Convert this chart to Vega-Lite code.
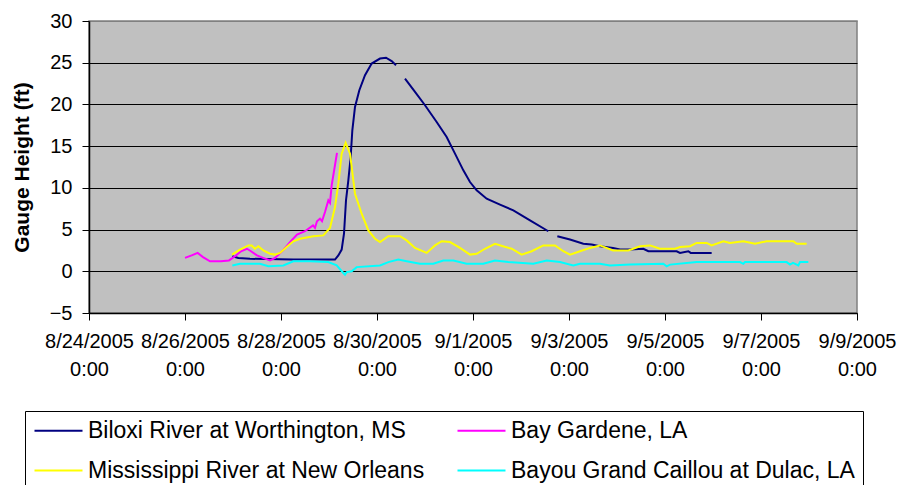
{
  "$schema": "https://vega.github.io/schema/vega-lite/v6.json",
  "autosize": "none",
  "width": 768,
  "height": 292,
  "padding": {"left": 89, "top": 21, "right": 42, "bottom": 172},
  "background": "white",
  "config": {
    "font": "Liberation Sans",
    "view": {"fill": "#C0C0C0", "stroke": "#808080", "strokeWidth": 1.5}
  },
  "datasets": {
    "series": [
      {"site": "Biloxi River at Worthington, MS", "time": "2005-08-26T23:40", "gauge": 1.8},
      {"site": "Biloxi River at Worthington, MS", "time": "2005-08-27T02:40", "gauge": 1.6},
      {"site": "Biloxi River at Worthington, MS", "time": "2005-08-27T08:30", "gauge": 1.5},
      {"site": "Biloxi River at Worthington, MS", "time": "2005-08-28T06:10", "gauge": 1.4},
      {"site": "Biloxi River at Worthington, MS", "time": "2005-08-29T03:00", "gauge": 1.4},
      {"site": "Biloxi River at Worthington, MS", "time": "2005-08-29T04:40", "gauge": 1.9},
      {"site": "Biloxi River at Worthington, MS", "time": "2005-08-29T06:20", "gauge": 2.6},
      {"site": "Biloxi River at Worthington, MS", "time": "2005-08-29T07:30", "gauge": 4.5},
      {"site": "Biloxi River at Worthington, MS", "time": "2005-08-29T08:30", "gauge": 8.5},
      {"site": "Biloxi River at Worthington, MS", "time": "2005-08-29T09:40", "gauge": 10.9},
      {"site": "Biloxi River at Worthington, MS", "time": "2005-08-29T10:50", "gauge": 13.7},
      {"site": "Biloxi River at Worthington, MS", "time": "2005-08-29T11:40", "gauge": 16.9},
      {"site": "Biloxi River at Worthington, MS", "time": "2005-08-29T13:00", "gauge": 19.7},
      {"site": "Biloxi River at Worthington, MS", "time": "2005-08-29T15:10", "gauge": 21.7},
      {"site": "Biloxi River at Worthington, MS", "time": "2005-08-29T18:00", "gauge": 23.5},
      {"site": "Biloxi River at Worthington, MS", "time": "2005-08-29T21:20", "gauge": 24.9},
      {"site": "Biloxi River at Worthington, MS", "time": "2005-08-30T01:30", "gauge": 25.5},
      {"site": "Biloxi River at Worthington, MS", "time": "2005-08-30T04:30", "gauge": 25.6},
      {"site": "Biloxi River at Worthington, MS", "time": "2005-08-30T07:20", "gauge": 25.2},
      {"site": "Biloxi River at Worthington, MS", "time": "2005-08-30T09:30", "gauge": 24.7},
      {"site": "Biloxi River at Worthington, MS", "time": "2005-08-30T11:40", "gauge": null},
      {"site": "Biloxi River at Worthington, MS", "time": "2005-08-30T14:00", "gauge": 23.1},
      {"site": "Biloxi River at Worthington, MS", "time": "2005-08-30T19:00", "gauge": 21.5},
      {"site": "Biloxi River at Worthington, MS", "time": "2005-08-31T00:00", "gauge": 19.9},
      {"site": "Biloxi River at Worthington, MS", "time": "2005-08-31T05:50", "gauge": 17.9},
      {"site": "Biloxi River at Worthington, MS", "time": "2005-08-31T10:50", "gauge": 16.1},
      {"site": "Biloxi River at Worthington, MS", "time": "2005-08-31T15:00", "gauge": 14.1},
      {"site": "Biloxi River at Worthington, MS", "time": "2005-08-31T19:10", "gauge": 12.1},
      {"site": "Biloxi River at Worthington, MS", "time": "2005-08-31T22:30", "gauge": 10.7},
      {"site": "Biloxi River at Worthington, MS", "time": "2005-09-01T01:50", "gauge": 9.7},
      {"site": "Biloxi River at Worthington, MS", "time": "2005-09-01T06:50", "gauge": 8.7},
      {"site": "Biloxi River at Worthington, MS", "time": "2005-09-01T13:30", "gauge": 8.0},
      {"site": "Biloxi River at Worthington, MS", "time": "2005-09-01T20:10", "gauge": 7.3},
      {"site": "Biloxi River at Worthington, MS", "time": "2005-09-02T04:30", "gauge": 6.1},
      {"site": "Biloxi River at Worthington, MS", "time": "2005-09-02T13:40", "gauge": 4.8},
      {"site": "Biloxi River at Worthington, MS", "time": "2005-09-02T16:00", "gauge": null},
      {"site": "Biloxi River at Worthington, MS", "time": "2005-09-02T18:10", "gauge": 4.2},
      {"site": "Biloxi River at Worthington, MS", "time": "2005-09-03T00:30", "gauge": 3.8},
      {"site": "Biloxi River at Worthington, MS", "time": "2005-09-03T07:10", "gauge": 3.3},
      {"site": "Biloxi River at Worthington, MS", "time": "2005-09-03T11:20", "gauge": 3.2},
      {"site": "Biloxi River at Worthington, MS", "time": "2005-09-03T15:30", "gauge": 3.0},
      {"site": "Biloxi River at Worthington, MS", "time": "2005-09-03T22:00", "gauge": 2.8},
      {"site": "Biloxi River at Worthington, MS", "time": "2005-09-04T01:30", "gauge": 2.6},
      {"site": "Biloxi River at Worthington, MS", "time": "2005-09-04T06:30", "gauge": 2.6},
      {"site": "Biloxi River at Worthington, MS", "time": "2005-09-04T13:10", "gauge": 2.7},
      {"site": "Biloxi River at Worthington, MS", "time": "2005-09-04T15:40", "gauge": 2.4},
      {"site": "Biloxi River at Worthington, MS", "time": "2005-09-05T05:50", "gauge": 2.4},
      {"site": "Biloxi River at Worthington, MS", "time": "2005-09-05T07:30", "gauge": 2.2},
      {"site": "Biloxi River at Worthington, MS", "time": "2005-09-05T11:40", "gauge": 2.4},
      {"site": "Biloxi River at Worthington, MS", "time": "2005-09-05T12:50", "gauge": 2.2},
      {"site": "Biloxi River at Worthington, MS", "time": "2005-09-05T23:20", "gauge": 2.2},

      {"site": "Bay Gardene, LA", "time": "2005-08-26T00:00", "gauge": 1.6},
      {"site": "Bay Gardene, LA", "time": "2005-08-26T03:20", "gauge": 1.9},
      {"site": "Bay Gardene, LA", "time": "2005-08-26T06:20", "gauge": 2.2},
      {"site": "Bay Gardene, LA", "time": "2005-08-26T09:00", "gauge": 1.7},
      {"site": "Bay Gardene, LA", "time": "2005-08-26T12:30", "gauge": 1.2},
      {"site": "Bay Gardene, LA", "time": "2005-08-26T18:00", "gauge": 1.2},
      {"site": "Bay Gardene, LA", "time": "2005-08-26T22:00", "gauge": 1.3},
      {"site": "Bay Gardene, LA", "time": "2005-08-27T01:00", "gauge": 1.8},
      {"site": "Bay Gardene, LA", "time": "2005-08-27T04:00", "gauge": 2.4},
      {"site": "Bay Gardene, LA", "time": "2005-08-27T07:00", "gauge": 2.7},
      {"site": "Bay Gardene, LA", "time": "2005-08-27T09:00", "gauge": 2.4},
      {"site": "Bay Gardene, LA", "time": "2005-08-27T12:00", "gauge": 1.9},
      {"site": "Bay Gardene, LA", "time": "2005-08-27T15:00", "gauge": 1.6},
      {"site": "Bay Gardene, LA", "time": "2005-08-27T18:30", "gauge": 1.3},
      {"site": "Bay Gardene, LA", "time": "2005-08-27T21:00", "gauge": 1.6},
      {"site": "Bay Gardene, LA", "time": "2005-08-28T01:00", "gauge": 2.5},
      {"site": "Bay Gardene, LA", "time": "2005-08-28T04:30", "gauge": 3.5},
      {"site": "Bay Gardene, LA", "time": "2005-08-28T08:00", "gauge": 4.4},
      {"site": "Bay Gardene, LA", "time": "2005-08-28T12:00", "gauge": 4.8},
      {"site": "Bay Gardene, LA", "time": "2005-08-28T16:00", "gauge": 5.5},
      {"site": "Bay Gardene, LA", "time": "2005-08-28T17:00", "gauge": 5.2},
      {"site": "Bay Gardene, LA", "time": "2005-08-28T18:00", "gauge": 6.0},
      {"site": "Bay Gardene, LA", "time": "2005-08-28T19:30", "gauge": 6.3},
      {"site": "Bay Gardene, LA", "time": "2005-08-28T20:30", "gauge": 6.0},
      {"site": "Bay Gardene, LA", "time": "2005-08-28T22:00", "gauge": 7.1},
      {"site": "Bay Gardene, LA", "time": "2005-08-28T23:40", "gauge": 8.5},
      {"site": "Bay Gardene, LA", "time": "2005-08-29T00:30", "gauge": 8.2},
      {"site": "Bay Gardene, LA", "time": "2005-08-29T01:20", "gauge": 10.3},
      {"site": "Bay Gardene, LA", "time": "2005-08-29T02:30", "gauge": 12.0},
      {"site": "Bay Gardene, LA", "time": "2005-08-29T04:00", "gauge": 14.2},

      {"site": "Mississippi River at New Orleans", "time": "2005-08-26T23:30", "gauge": 2.0},
      {"site": "Mississippi River at New Orleans", "time": "2005-08-27T03:30", "gauge": 2.6},
      {"site": "Mississippi River at New Orleans", "time": "2005-08-27T07:40", "gauge": 3.1},
      {"site": "Mississippi River at New Orleans", "time": "2005-08-27T09:20", "gauge": 3.1},
      {"site": "Mississippi River at New Orleans", "time": "2005-08-27T11:00", "gauge": 2.7},
      {"site": "Mississippi River at New Orleans", "time": "2005-08-27T12:40", "gauge": 3.0},
      {"site": "Mississippi River at New Orleans", "time": "2005-08-27T15:10", "gauge": 2.5},
      {"site": "Mississippi River at New Orleans", "time": "2005-08-27T18:30", "gauge": 2.1},
      {"site": "Mississippi River at New Orleans", "time": "2005-08-27T21:00", "gauge": 2.0},
      {"site": "Mississippi River at New Orleans", "time": "2005-08-27T23:30", "gauge": 2.2},
      {"site": "Mississippi River at New Orleans", "time": "2005-08-28T02:50", "gauge": 2.9},
      {"site": "Mississippi River at New Orleans", "time": "2005-08-28T06:10", "gauge": 3.6},
      {"site": "Mississippi River at New Orleans", "time": "2005-08-28T09:30", "gauge": 3.9},
      {"site": "Mississippi River at New Orleans", "time": "2005-08-28T16:10", "gauge": 4.2},
      {"site": "Mississippi River at New Orleans", "time": "2005-08-28T21:10", "gauge": 4.3},
      {"site": "Mississippi River at New Orleans", "time": "2005-08-29T00:30", "gauge": 5.2},
      {"site": "Mississippi River at New Orleans", "time": "2005-08-29T03:00", "gauge": 7.7},
      {"site": "Mississippi River at New Orleans", "time": "2005-08-29T04:40", "gauge": 10.5},
      {"site": "Mississippi River at New Orleans", "time": "2005-08-29T06:20", "gauge": 14.1},
      {"site": "Mississippi River at New Orleans", "time": "2005-08-29T08:20", "gauge": 15.4},
      {"site": "Mississippi River at New Orleans", "time": "2005-08-29T10:30", "gauge": 14.1},
      {"site": "Mississippi River at New Orleans", "time": "2005-08-29T13:00", "gauge": 9.3},
      {"site": "Mississippi River at New Orleans", "time": "2005-08-29T16:20", "gauge": 6.9},
      {"site": "Mississippi River at New Orleans", "time": "2005-08-29T19:40", "gauge": 4.9},
      {"site": "Mississippi River at New Orleans", "time": "2005-08-29T23:00", "gauge": 3.9},
      {"site": "Mississippi River at New Orleans", "time": "2005-08-30T01:30", "gauge": 3.5},
      {"site": "Mississippi River at New Orleans", "time": "2005-08-30T05:40", "gauge": 4.2},
      {"site": "Mississippi River at New Orleans", "time": "2005-08-30T11:30", "gauge": 4.2},
      {"site": "Mississippi River at New Orleans", "time": "2005-08-30T14:50", "gauge": 3.7},
      {"site": "Mississippi River at New Orleans", "time": "2005-08-30T19:00", "gauge": 2.8},
      {"site": "Mississippi River at New Orleans", "time": "2005-08-31T00:50", "gauge": 2.2},
      {"site": "Mississippi River at New Orleans", "time": "2005-08-31T05:00", "gauge": 3.1},
      {"site": "Mississippi River at New Orleans", "time": "2005-08-31T08:20", "gauge": 3.6},
      {"site": "Mississippi River at New Orleans", "time": "2005-08-31T12:30", "gauge": 3.5},
      {"site": "Mississippi River at New Orleans", "time": "2005-08-31T17:30", "gauge": 2.8},
      {"site": "Mississippi River at New Orleans", "time": "2005-08-31T22:30", "gauge": 2.0},
      {"site": "Mississippi River at New Orleans", "time": "2005-09-01T01:50", "gauge": 2.1},
      {"site": "Mississippi River at New Orleans", "time": "2005-09-01T06:00", "gauge": 2.7},
      {"site": "Mississippi River at New Orleans", "time": "2005-09-01T11:00", "gauge": 3.3},
      {"site": "Mississippi River at New Orleans", "time": "2005-09-01T15:00", "gauge": 3.0},
      {"site": "Mississippi River at New Orleans", "time": "2005-09-01T19:20", "gauge": 2.7},
      {"site": "Mississippi River at New Orleans", "time": "2005-09-02T00:20", "gauge": 2.0},
      {"site": "Mississippi River at New Orleans", "time": "2005-09-02T05:20", "gauge": 2.4},
      {"site": "Mississippi River at New Orleans", "time": "2005-09-02T11:10", "gauge": 3.1},
      {"site": "Mississippi River at New Orleans", "time": "2005-09-02T17:00", "gauge": 3.1},
      {"site": "Mississippi River at New Orleans", "time": "2005-09-02T21:10", "gauge": 2.4},
      {"site": "Mississippi River at New Orleans", "time": "2005-09-03T00:30", "gauge": 2.0},
      {"site": "Mississippi River at New Orleans", "time": "2005-09-03T05:30", "gauge": 2.4},
      {"site": "Mississippi River at New Orleans", "time": "2005-09-03T10:30", "gauge": 2.8},
      {"site": "Mississippi River at New Orleans", "time": "2005-09-03T15:30", "gauge": 3.1},
      {"site": "Mississippi River at New Orleans", "time": "2005-09-03T22:00", "gauge": 2.5},
      {"site": "Mississippi River at New Orleans", "time": "2005-09-04T05:40", "gauge": 2.5},
      {"site": "Mississippi River at New Orleans", "time": "2005-09-04T11:30", "gauge": 3.0},
      {"site": "Mississippi River at New Orleans", "time": "2005-09-04T16:30", "gauge": 3.1},
      {"site": "Mississippi River at New Orleans", "time": "2005-09-04T21:30", "gauge": 2.7},
      {"site": "Mississippi River at New Orleans", "time": "2005-09-05T05:00", "gauge": 2.7},
      {"site": "Mississippi River at New Orleans", "time": "2005-09-05T07:30", "gauge": 2.9},
      {"site": "Mississippi River at New Orleans", "time": "2005-09-05T12:30", "gauge": 3.0},
      {"site": "Mississippi River at New Orleans", "time": "2005-09-05T15:50", "gauge": 3.4},
      {"site": "Mississippi River at New Orleans", "time": "2005-09-05T20:50", "gauge": 3.4},
      {"site": "Mississippi River at New Orleans", "time": "2005-09-05T23:20", "gauge": 3.1},
      {"site": "Mississippi River at New Orleans", "time": "2005-09-06T05:10", "gauge": 3.6},
      {"site": "Mississippi River at New Orleans", "time": "2005-09-06T08:30", "gauge": 3.4},
      {"site": "Mississippi River at New Orleans", "time": "2005-09-06T15:10", "gauge": 3.6},
      {"site": "Mississippi River at New Orleans", "time": "2005-09-06T21:00", "gauge": 3.3},
      {"site": "Mississippi River at New Orleans", "time": "2005-09-07T02:50", "gauge": 3.6},
      {"site": "Mississippi River at New Orleans", "time": "2005-09-07T16:10", "gauge": 3.6},
      {"site": "Mississippi River at New Orleans", "time": "2005-09-07T17:50", "gauge": 3.3},
      {"site": "Mississippi River at New Orleans", "time": "2005-09-07T22:50", "gauge": 3.3},

      {"site": "Bayou Grand Caillou at Dulac, LA", "time": "2005-08-26T23:40", "gauge": 0.7},
      {"site": "Bayou Grand Caillou at Dulac, LA", "time": "2005-08-27T03:30", "gauge": 0.9},
      {"site": "Bayou Grand Caillou at Dulac, LA", "time": "2005-08-27T13:30", "gauge": 0.9},
      {"site": "Bayou Grand Caillou at Dulac, LA", "time": "2005-08-27T17:40", "gauge": 0.6},
      {"site": "Bayou Grand Caillou at Dulac, LA", "time": "2005-08-28T01:10", "gauge": 0.7},
      {"site": "Bayou Grand Caillou at Dulac, LA", "time": "2005-08-28T06:10", "gauge": 1.2},
      {"site": "Bayou Grand Caillou at Dulac, LA", "time": "2005-08-28T14:30", "gauge": 1.2},
      {"site": "Bayou Grand Caillou at Dulac, LA", "time": "2005-08-28T23:40", "gauge": 1.1},
      {"site": "Bayou Grand Caillou at Dulac, LA", "time": "2005-08-29T03:50", "gauge": 0.7},
      {"site": "Bayou Grand Caillou at Dulac, LA", "time": "2005-08-29T07:10", "gauge": -0.2},
      {"site": "Bayou Grand Caillou at Dulac, LA", "time": "2005-08-29T08:00", "gauge": -0.4},
      {"site": "Bayou Grand Caillou at Dulac, LA", "time": "2005-08-29T08:50", "gauge": -0.1},
      {"site": "Bayou Grand Caillou at Dulac, LA", "time": "2005-08-29T11:20", "gauge": 0.0},
      {"site": "Bayou Grand Caillou at Dulac, LA", "time": "2005-08-29T13:50", "gauge": 0.5},
      {"site": "Bayou Grand Caillou at Dulac, LA", "time": "2005-08-30T01:30", "gauge": 0.7},
      {"site": "Bayou Grand Caillou at Dulac, LA", "time": "2005-08-30T05:40", "gauge": 1.1},
      {"site": "Bayou Grand Caillou at Dulac, LA", "time": "2005-08-30T10:40", "gauge": 1.4},
      {"site": "Bayou Grand Caillou at Dulac, LA", "time": "2005-08-30T14:50", "gauge": 1.2},
      {"site": "Bayou Grand Caillou at Dulac, LA", "time": "2005-08-30T21:30", "gauge": 0.9},
      {"site": "Bayou Grand Caillou at Dulac, LA", "time": "2005-08-31T04:10", "gauge": 0.9},
      {"site": "Bayou Grand Caillou at Dulac, LA", "time": "2005-08-31T09:10", "gauge": 1.3},
      {"site": "Bayou Grand Caillou at Dulac, LA", "time": "2005-08-31T14:10", "gauge": 1.3},
      {"site": "Bayou Grand Caillou at Dulac, LA", "time": "2005-08-31T20:50", "gauge": 0.9},
      {"site": "Bayou Grand Caillou at Dulac, LA", "time": "2005-09-01T05:10", "gauge": 0.9},
      {"site": "Bayou Grand Caillou at Dulac, LA", "time": "2005-09-01T11:00", "gauge": 1.3},
      {"site": "Bayou Grand Caillou at Dulac, LA", "time": "2005-09-01T17:40", "gauge": 1.1},
      {"site": "Bayou Grand Caillou at Dulac, LA", "time": "2005-09-02T06:10", "gauge": 0.9},
      {"site": "Bayou Grand Caillou at Dulac, LA", "time": "2005-09-02T12:50", "gauge": 1.3},
      {"site": "Bayou Grand Caillou at Dulac, LA", "time": "2005-09-02T19:30", "gauge": 1.1},
      {"site": "Bayou Grand Caillou at Dulac, LA", "time": "2005-09-03T02:10", "gauge": 0.7},
      {"site": "Bayou Grand Caillou at Dulac, LA", "time": "2005-09-03T05:30", "gauge": 0.9},
      {"site": "Bayou Grand Caillou at Dulac, LA", "time": "2005-09-03T15:30", "gauge": 0.9},
      {"site": "Bayou Grand Caillou at Dulac, LA", "time": "2005-09-03T20:30", "gauge": 0.7},
      {"site": "Bayou Grand Caillou at Dulac, LA", "time": "2005-09-04T06:30", "gauge": 0.8},
      {"site": "Bayou Grand Caillou at Dulac, LA", "time": "2005-09-04T23:10", "gauge": 0.9},
      {"site": "Bayou Grand Caillou at Dulac, LA", "time": "2005-09-05T00:50", "gauge": 0.6},
      {"site": "Bayou Grand Caillou at Dulac, LA", "time": "2005-09-05T02:30", "gauge": 0.8},
      {"site": "Bayou Grand Caillou at Dulac, LA", "time": "2005-09-05T15:50", "gauge": 1.1},
      {"site": "Bayou Grand Caillou at Dulac, LA", "time": "2005-09-06T13:30", "gauge": 1.1},
      {"site": "Bayou Grand Caillou at Dulac, LA", "time": "2005-09-06T15:10", "gauge": 0.9},
      {"site": "Bayou Grand Caillou at Dulac, LA", "time": "2005-09-06T16:00", "gauge": 1.1},
      {"site": "Bayou Grand Caillou at Dulac, LA", "time": "2005-09-07T12:50", "gauge": 1.1},
      {"site": "Bayou Grand Caillou at Dulac, LA", "time": "2005-09-07T14:30", "gauge": 0.8},
      {"site": "Bayou Grand Caillou at Dulac, LA", "time": "2005-09-07T16:00", "gauge": 1.0},
      {"site": "Bayou Grand Caillou at Dulac, LA", "time": "2005-09-07T18:40", "gauge": 0.7},
      {"site": "Bayou Grand Caillou at Dulac, LA", "time": "2005-09-07T19:30", "gauge": 1.1},
      {"site": "Bayou Grand Caillou at Dulac, LA", "time": "2005-09-07T23:40", "gauge": 1.1}
    ]
  },
  "data": {"name": "series"},
  "mark": {"type": "line", "strokeWidth": 2, "interpolate": "linear", "invalid": "break-paths-show-domains"},
  "encoding": {
    "x": {
      "field": "time",
      "type": "temporal",
      "scale": {"domain": [{"year": 2005, "month": 8, "date": 24}, {"year": 2005, "month": 9, "date": 9}]},
      "axis": {
        "title": null,
        "values": [
          {"year": 2005, "month": 8, "date": 24},
          {"year": 2005, "month": 8, "date": 26},
          {"year": 2005, "month": 8, "date": 28},
          {"year": 2005, "month": 8, "date": 30},
          {"year": 2005, "month": 9, "date": 1},
          {"year": 2005, "month": 9, "date": 3},
          {"year": 2005, "month": 9, "date": 5},
          {"year": 2005, "month": 9, "date": 7},
          {"year": 2005, "month": 9, "date": 9}
        ],
        "labelExpr": "[timeFormat(datum.value, '%-m/%-d/%Y'), '0:00']",
        "labelFontSize": 20,
        "labelColor": "black",
        "labelLineHeight": 28,
        "labelPadding": 11,
        "labelOverlap": false,
        "labelFlush": false,
        "labelBaseline": "top",
        "tickColor": "black",
        "tickSize": 7,
        "domainColor": "black",
        "domainWidth": 1.5,
        "grid": false
      }
    },
    "y": {
      "field": "gauge",
      "type": "quantitative",
      "scale": {"domain": [-5, 30], "nice": false, "zero": false},
      "axis": {
        "title": "Gauge Height (ft)",
        "titleFontSize": 21,
        "titleFontWeight": "bold",
        "titleColor": "black",
        "titlePadding": 17,
        "values": [-5, 0, 5, 10, 15, 20, 25, 30],
        "labelFontSize": 20,
        "labelColor": "black",
        "labelPadding": 10,
        "tickColor": "black",
        "tickSize": 7,
        "domainColor": "black",
        "domainWidth": 1.5,
        "grid": true,
        "gridColor": {"condition": {"test": "datum.value == 30", "value": "#808080"}, "value": "black"},
        "gridOpacity": 1,
        "gridWidth": 1
      }
    },
    "color": {
      "field": "site",
      "type": "nominal",
      "scale": {
        "domain": ["Biloxi River at Worthington, MS", "Bay Gardene, LA", "Mississippi River at New Orleans", "Bayou Grand Caillou at Dulac, LA"],
        "range": ["#000080", "#FF00FF", "#FFFF00", "#00FFFF"]
      },
      "legend": {
        "title": null,
        "orient": "none",
        "direction": "horizontal",
        "legendX": -64,
        "legendY": 390,
        "columns": 2,
        "columnPadding": 28,
        "rowPadding": 16,
        "padding": 8,
        "strokeColor": "black",
        "fillColor": "white",
        "symbolType": "M-2.4,0H2.4",
        "symbolSize": 400,
        "symbolStrokeWidth": 2,
        "symbolOffset": 14,
        "labelFontSize": 23,
        "labelColor": "black",
        "labelOffset": 18,
        "labelLimit": 500
      }
    },
    "order": {"field": "time", "type": "temporal"}
  }
}
